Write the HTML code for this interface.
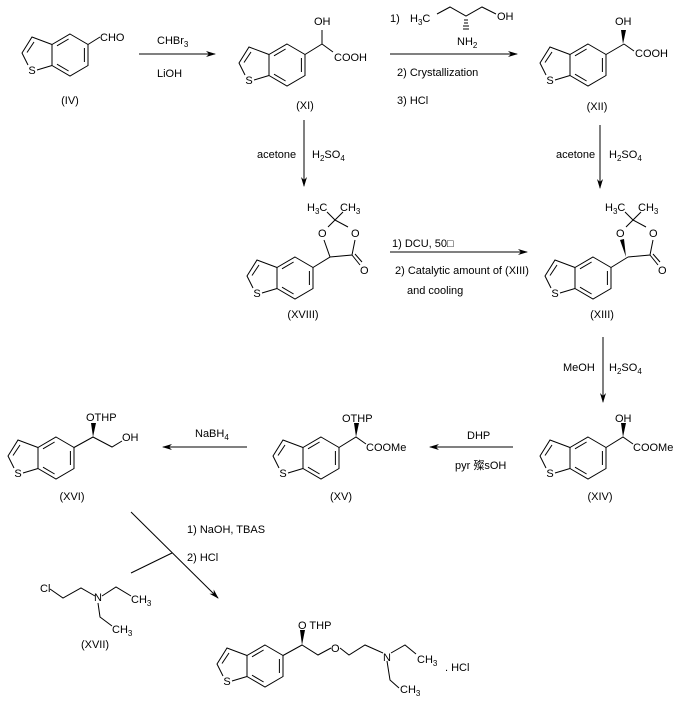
<!DOCTYPE html>
<html><head><meta charset="utf-8"><style>
html,body{margin:0;padding:0;background:#fff}
svg{display:block}
text{font-family:"Liberation Sans","Noto Sans CJK SC",sans-serif;font-size:11px;fill:#000}
.s{font-size:8px}
</style></head><body>
<svg width="678" height="704" viewBox="0 0 678 704" xmlns="http://www.w3.org/2000/svg">
<defs>
<g id="bt" fill="none" stroke="#000" stroke-width="1">
<polygon points="0,-21 18,-10.5 18,10.5 0,21 -18,10.5 -18,-10.5"/>
<line x1="-1.4" y1="-16" x2="-13" y2="-9.2"/>
<line x1="14.4" y1="-7" x2="14.4" y2="7"/>
<line x1="-1.4" y1="16" x2="-13" y2="9.2"/>
<path d="M-18,-10.5 L-38,-18 L-48,-2 L-42,10 M-33,15 L-18,10.5"/>
<line x1="-36" y1="-13" x2="-43" y2="-2.5"/>
</g>
<marker id="ah" markerWidth="10" markerHeight="6" refX="9" refY="3" orient="auto" markerUnits="userSpaceOnUse">
<path d="M0,0 L10,3 L0,6 L3,3 Z" fill="#000"/>
</marker>
</defs>
<g stroke="#000" stroke-width="1" fill="none">
<!-- IV -->
<use href="#bt" x="70" y="55"/>
<line x1="88" y1="44.5" x2="100" y2="37"/>
<!-- XI -->
<use href="#bt" x="287" y="65"/>
<path d="M305,54.5 L322,44 M322,44 L322,30 M322,44 L333,52"/>
<!-- XII -->
<use href="#bt" x="588" y="65"/>
<path d="M606,54.5 L624,44 M624,44 L634,51"/>
<!-- XVIII -->
<use href="#bt" x="295" y="278"/>
<path d="M313,267.5 L330,257 L324,240 M330,257 L352,255 L355,240 M328,227 L335,220 L348,227 M335,220 L327,212 M335,220 L343,212 M352,255 L360,265 M355,254 L362,262"/>
<!-- XIII -->
<use href="#bt" x="593" y="278"/>
<path d="M611,267.5 L628,257 M628,257 L650,255 L653,240 M626,227 L633,220 L646,227 M633,220 L625,212 M633,220 L641,212 M650,255 L658,265 M653,254 L660,262"/>
<!-- XIV -->
<use href="#bt" x="588" y="458"/>
<path d="M606,447.5 L623,437 L633,444"/>
<!-- XV -->
<use href="#bt" x="321" y="458"/>
<path d="M339,447.5 L356,437 L366,444"/>
<!-- XVI -->
<use href="#bt" x="56" y="458"/>
<path d="M74,447.5 L93,437 L112,447 L122,441"/>
<!-- amino alcohol -->
<path d="M437,14 L450,7 L466,16 L482,7 L496,14"/>
<!-- XVII -->
<path d="M50,589 L63,598 L81,588 L95,596 M102,596 L116,587 L131,596 M98,603 L100,617 L112,626"/>
<!-- product -->
<use href="#bt" x="265" y="666"/>
<path d="M283,655.5 L302,645 L318,655 L331,648 M340,648 L349,655 L365,645 L383,653 M391,653 L405,645 L416,654 M387,661 L390,680 L399,688"/>
<!-- arrows -->
<line x1="139" y1="54" x2="215" y2="54" marker-end="url(#ah)"/>
<line x1="390" y1="54" x2="517" y2="54" marker-end="url(#ah)"/>
<line x1="304" y1="120" x2="304" y2="186" marker-end="url(#ah)"/>
<line x1="600" y1="125" x2="600" y2="188" marker-end="url(#ah)"/>
<line x1="390" y1="252" x2="527" y2="252" marker-end="url(#ah)"/>
<line x1="603" y1="337" x2="603" y2="402" marker-end="url(#ah)"/>
<line x1="513" y1="447" x2="430" y2="447" marker-end="url(#ah)"/>
<line x1="247" y1="447" x2="163" y2="447" marker-end="url(#ah)"/>
<line x1="131" y1="512" x2="218" y2="598" marker-end="url(#ah)"/>
<line x1="131" y1="573" x2="172" y2="553"/>
</g>
<!-- wedges -->
<g fill="#000">
<polygon points="623,44 621,30 626,30"/>
<polygon points="626,257 620,240 624,239"/>
<polygon points="623,437 621,423 626,423"/>
<polygon points="356,437 354,423 359,423"/>
<polygon points="93,437 91,423 96,423"/>
<polygon points="302,645 300,630 305,630"/>
</g>
<!-- hashed bond NH2 -->
<g stroke="#000" stroke-width="1">
<line x1="464" y1="20" x2="468" y2="20"/><line x1="464" y1="23" x2="468" y2="23"/><line x1="463" y1="26" x2="469" y2="26"/><line x1="463" y1="29" x2="469" y2="29"/>
</g>
<!-- S labels -->
<g text-anchor="middle">
<text x="32" y="74">S</text>
<text x="249" y="84">S</text>
<text x="550" y="84">S</text>
<text x="257" y="297">S</text>
<text x="555" y="297">S</text>
<text x="550" y="477">S</text>
<text x="283" y="477">S</text>
<text x="18" y="477">S</text>
<text x="227" y="685">S</text>
</g>
<!-- substituent labels -->
<text x="100" y="41">CHO</text>
<text x="314" y="25">OH</text>
<text x="334" y="61">COOH</text>
<text x="615" y="25">OH</text>
<text x="635" y="57">COOH</text>
<text x="318" y="237">O</text>
<text x="351" y="237">O</text>
<text x="360" y="274">O</text>
<text x="307" y="211">H<tspan class="s" dy="3">3</tspan><tspan dy="-3">C</tspan></text>
<text x="340" y="211">CH<tspan class="s" dy="3">3</tspan></text>
<text x="616" y="237">O</text>
<text x="649" y="237">O</text>
<text x="658" y="274">O</text>
<text x="605" y="211">H<tspan class="s" dy="3">3</tspan><tspan dy="-3">C</tspan></text>
<text x="638" y="211">CH<tspan class="s" dy="3">3</tspan></text>
<text x="615" y="422">OH</text>
<text x="633" y="451">COOMe</text>
<text x="342" y="422">OTHP</text>
<text x="366" y="451">COOMe</text>
<text x="86" y="421">OTHP</text>
<text x="122" y="441">OH</text>
<!-- amino alcohol -->
<text x="390" y="22">1)</text>
<text x="410" y="22">H<tspan class="s" dy="3">3</tspan><tspan dy="-3">C</tspan></text>
<text x="497" y="20">OH</text>
<text x="457" y="45">NH<tspan class="s" dy="3">2</tspan></text>
<!-- XVII -->
<text x="40" y="592">Cl</text>
<text x="94" y="601">N</text>
<text x="131" y="603">CH<tspan class="s" dy="3">3</tspan></text>
<text x="112" y="633">CH<tspan class="s" dy="3">3</tspan></text>
<!-- product -->
<text x="298" y="629">O THP</text>
<text x="331" y="652">O</text>
<text x="383" y="661">N</text>
<text x="417" y="663">CH<tspan class="s" dy="3">3</tspan></text>
<text x="400" y="693">CH<tspan class="s" dy="3">3</tspan></text>
<text x="445" y="671">. HCl</text>
<!-- reagents -->
<text x="157" y="44">CHBr<tspan class="s" dy="3">3</tspan></text>
<text x="157" y="77">LiOH</text>
<text x="397" y="76">2) Crystallization</text>
<text x="397" y="104">3) HCl</text>
<text x="257" y="158">acetone</text>
<text x="312" y="158">H<tspan class="s" dy="3">2</tspan><tspan dy="-3">SO</tspan><tspan class="s" dy="3">4</tspan></text>
<text x="556" y="158">acetone</text>
<text x="609" y="158">H<tspan class="s" dy="3">2</tspan><tspan dy="-3">SO</tspan><tspan class="s" dy="3">4</tspan></text>
<text x="392" y="247">1) DCU, 50□</text>
<text x="395" y="274">2) Catalytic amount of (XIII)</text>
<text x="407" y="294">and cooling</text>
<text x="563" y="371">MeOH</text>
<text x="609" y="371">H<tspan class="s" dy="3">2</tspan><tspan dy="-3">SO</tspan><tspan class="s" dy="3">4</tspan></text>
<text x="467" y="439">DHP</text>
<text x="455" y="469">pyr 殩sOH</text>
<text x="195" y="437">NaBH<tspan class="s" dy="3">4</tspan></text>
<text x="187" y="533">1) NaOH, TBAS</text>
<text x="187" y="561">2) HCl</text>
<!-- compound labels -->
<g text-anchor="middle">
<text x="70" y="104">(IV)</text>
<text x="305" y="109">(XI)</text>
<text x="597" y="110">(XII)</text>
<text x="303" y="318">(XVIII)</text>
<text x="602" y="318">(XIII)</text>
<text x="72" y="500">(XVI)</text>
<text x="341" y="500">(XV)</text>
<text x="600" y="500">(XIV)</text>
<text x="95" y="648">(XVII)</text>
</g>
</svg>
</body></html>
